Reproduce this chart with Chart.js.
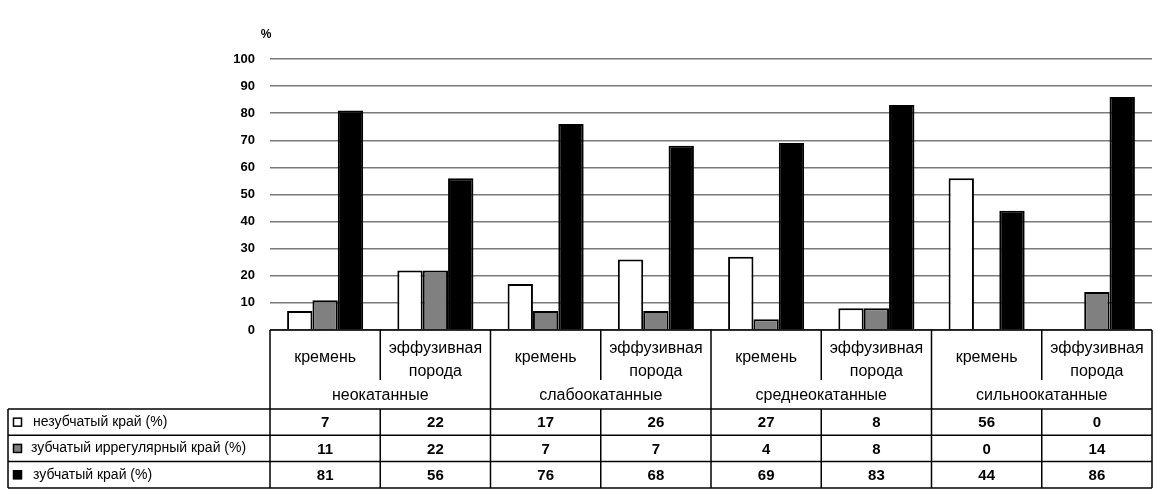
<!DOCTYPE html>
<html>
<head>
<meta charset="utf-8">
<script src="https://cdn.jsdelivr.net/npm/chart.js@4.4.1/dist/chart.umd.min.js"></script>
<style>
  html, body { margin: 0; padding: 0; background: #ffffff; }
  #wrap { width: 1155px; height: 492px; position: relative; }
</style>
</head>
<body>
<div id="wrap"><canvas id="c" width="1155" height="492"></canvas></div>
<script>
// ---- data ----
const groups = ['неокатанные', 'слабоокатанные', 'среднеокатанные', 'сильноокатанные'];
const materials = [['кремень'], ['эффузивная', 'порода']];
const categories = [
  'кремень', 'эффузивная порода',
  'кремень', 'эффузивная порода',
  'кремень', 'эффузивная порода',
  'кремень', 'эффузивная порода'
];
const seriesNames = ['незубчатый край (%)', 'зубчатый иррегулярный край (%)', 'зубчатый край (%)'];
const nonSerrated = [7, 22, 17, 26, 27, 8, 56, 0];
const irregularSerrated = [11, 22, 7, 7, 4, 8, 0, 14];
const serrated = [81, 56, 76, 68, 69, 83, 44, 86];
const yTicks = [0, 10, 20, 30, 40, 50, 60, 70, 80, 90, 100];
const yUnit = '%';

const seriesValues = [nonSerrated, irregularSerrated, serrated];
const seriesFill = ['#ffffff', '#808080', '#000000'];

const FONT = '"Liberation Sans", Arial, sans-serif';
const NUMFONT = '"Liberation Sans Narrow", "Liberation Sans", Arial, sans-serif';

const tablePlugin = {
  id: 'dataTable',
  afterDraw(chart) {
    const ctx = chart.ctx;
    const a = chart.chartArea;
    const xs = chart.scales.x;
    const L = a.left, R = a.right, B = a.bottom;
    const n = categories.length;
    const cw = (R - L) / n;
    const labelBottom = B + 79;       // bottom of the category label block
    const rowH = 26.3;
    const tableLeft = 8;
    const tableBottom = labelBottom + rowH * 3;

    ctx.save();
    // unit label
    ctx.fillStyle = '#000';
    ctx.font = 'bold 12px ' + FONT;
    ctx.textAlign = 'center';
    ctx.textBaseline = 'middle';
    ctx.fillText(yUnit, L - 4, a.top - 24);

    // lines
    ctx.strokeStyle = '#000';
    ctx.lineWidth = 1.5;
    const line = (x1, y1, x2, y2) => { ctx.beginPath(); ctx.moveTo(x1, y1); ctx.lineTo(x2, y2); ctx.stroke(); };
    line(L, B, R, B);
    line(tableLeft, labelBottom, R, labelBottom);
    for (let r = 1; r <= 3; r++) line(tableLeft, labelBottom + rowH * r, R, labelBottom + rowH * r);
    line(tableLeft, labelBottom, tableLeft, tableBottom);
    for (let i = 0; i <= n; i++) {
      const x = L + i * cw;
      if (i % 2 === 0) {
        line(x, B, x, tableBottom);
      } else {
        line(x, B, x, B + 50);
        line(x, labelBottom, x, tableBottom);
      }
    }

    // category labels
    ctx.fillStyle = '#000';
    ctx.textAlign = 'center';
    ctx.textBaseline = 'middle';
    ctx.font = '16px ' + FONT;
    for (let i = 0; i < n; i++) {
      const cx = xs.getPixelForValue(i);
      const m = materials[i % 2];
      if (m.length === 1) {
        ctx.fillText(m[0], cx, B + 28);
      } else {
        ctx.fillText(m[0], cx, B + 19);
        ctx.fillText(m[1], cx, B + 42);
      }
    }
    for (let g = 0; g < groups.length; g++) {
      const cx = L + (g * 2 + 1) * cw;
      ctx.fillText(groups[g], cx, B + 66);
    }

    // legend rows + values
    for (let s = 0; s < seriesValues.length; s++) {
      const cy = labelBottom + rowH * s + rowH / 2;
      ctx.fillStyle = seriesFill[s];
      ctx.fillRect(13, cy - 4.5, 9, 9);
      ctx.lineWidth = 1.5;
      ctx.strokeStyle = '#000';
      ctx.strokeRect(13.5, cy - 4, 8, 8);
      ctx.fillStyle = '#000';
      ctx.textAlign = 'left';
      ctx.font = '14px ' + FONT;
      ctx.fillText(seriesNames[s], s === 1 ? 31 : 33, cy);
      ctx.textAlign = 'center';
      ctx.font = 'bold 15px ' + NUMFONT;
      for (let i = 0; i < n; i++) {
        ctx.fillText(String(seriesValues[s][i]), xs.getPixelForValue(i), cy + 1);
      }
    }
    ctx.restore();
  }
};

new Chart(document.getElementById('c'), {
  type: 'bar',
  data: {
    labels: categories,
    datasets: seriesNames.map((name, s) => ({
      label: name,
      data: seriesValues[s],
      backgroundColor: seriesFill[s],
      borderColor: '#000',
      borderWidth: 2,
      categoryPercentage: 0.69,
      barPercentage: 1.0
    }))
  },
  options: {
    responsive: false,
    animation: false,
    devicePixelRatio: 1,
    layout: { padding: { left: 0, right: 3, top: 59, bottom: 162 } },
    plugins: { legend: { display: false }, tooltip: { enabled: false } },
    scales: {
      x: { display: false, offset: true },
      y: {
        min: 0, max: 100,
        afterFit: (s) => { s.width = 270; },
        afterBuildTicks: (s) => { s.ticks = yTicks.map(v => ({ value: v })); },
        grid: { color: '#7a7a7a', lineWidth: 1.5, drawTicks: false },
        border: { display: false },
        ticks: {
          padding: 15,
          color: '#000',
          font: { family: FONT, size: 13, weight: 'bold' }
        }
      }
    }
  },
  plugins: [tablePlugin]
});
</script>
</body>
</html>
